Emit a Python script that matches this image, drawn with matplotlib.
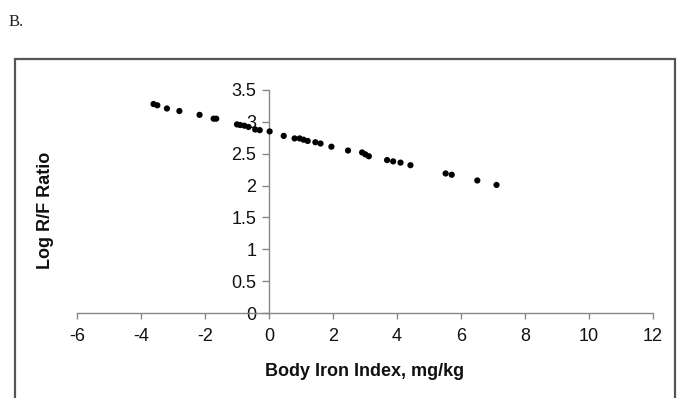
import matplotlib
matplotlib.use("Agg")
import matplotlib.pyplot as plt
from matplotlib.patches import Rectangle

plt.rcParams['font.family'] = ['Liberation Sans', 'DejaVu Sans']

body_iron_index = [-3.61, -3.49, -3.19, -2.80, -2.17, -1.73, -1.65, -1.00, -0.90, -0.77,
                   -0.64, -0.43, -0.29, 0.02, 0.46, 0.80, 0.96, 1.08, 1.21, 1.45,
                   1.61, 1.95, 2.47, 2.91, 3.01, 3.12, 3.69, 3.88, 4.11, 4.42,
                   5.52, 5.71, 6.51, 7.11]
log_rf_ratio = [3.28, 3.26, 3.21, 3.17, 3.11, 3.05, 3.05, 2.96, 2.95, 2.94,
                2.92, 2.88, 2.87, 2.85, 2.78, 2.74, 2.74, 2.72, 2.70, 2.68,
                2.66, 2.61, 2.55, 2.52, 2.49, 2.46, 2.40, 2.38, 2.36, 2.32,
                2.19, 2.17, 2.08, 2.01]
x_ticks = [-6, -4, -2, 0, 2, 4, 6, 8, 10, 12]
y_ticks = [0, 0.5, 1, 1.5, 2, 2.5, 3, 3.5]
y_tick_labels = ['0', '0.5', '1', '1.5', '2', '2.5', '3', '3.5']

W, H = 677, 398
fig = plt.figure(figsize=(W / 100, H / 100), dpi=100)
fig.patch.set_facecolor('white')

# outer frame
frame = Rectangle((15 / W, -0.05), (675 - 15) / W, (398 - 59) / H + 0.05,
                  transform=fig.transFigure, fill=False, edgecolor='#555555',
                  linewidth=1.6, zorder=0)
fig.add_artist(frame)

fig.text(9 / W, 1 - 22 / H, 'B.', family=['Liberation Serif', 'DejaVu Serif'],
         fontsize=12, va='center', ha='left', color='#222222')

ax = fig.add_axes([77 / W, (H - 313) / H, (653 - 77) / W, (313 - 90) / H])
ax.set_facecolor('none')
ax.scatter(body_iron_index, log_rf_ratio, s=20, color='black', edgecolors='none', zorder=3)

ax.set_xlim(-6, 12)
ax.set_ylim(0, 3.5)
ax.set_xticks(x_ticks)
ax.set_xticklabels([str(t) for t in x_ticks])
ax.set_yticks(y_ticks)
ax.set_yticklabels(y_tick_labels)

for s in ['top', 'right']:
    ax.spines[s].set_visible(False)
ax.spines['left'].set_position(('data', 0))
ax.spines['bottom'].set_position(('data', 0))
for s in ['left', 'bottom']:
    ax.spines[s].set_color('#888888')
    ax.spines[s].set_linewidth(1.0)

ax.tick_params(axis='both', direction='out', colors='#888888', labelcolor='#111111',
               labelsize=13, width=1.0)
ax.tick_params(axis='x', length=4, pad=7)
ax.tick_params(axis='y', length=5, pad=4)

ax.set_xlabel('Body Iron Index, mg/kg', fontsize=13, fontweight='bold', color='#111111')
ax.xaxis.set_label_coords(0.5, -0.225)
fig.text(45 / W, 1 - 210 / H, 'Log R/F Ratio', rotation=90, fontsize=13,
         fontweight='bold', color='#111111', ha='center', va='center')

fig.savefig('out.png', dpi=100)
